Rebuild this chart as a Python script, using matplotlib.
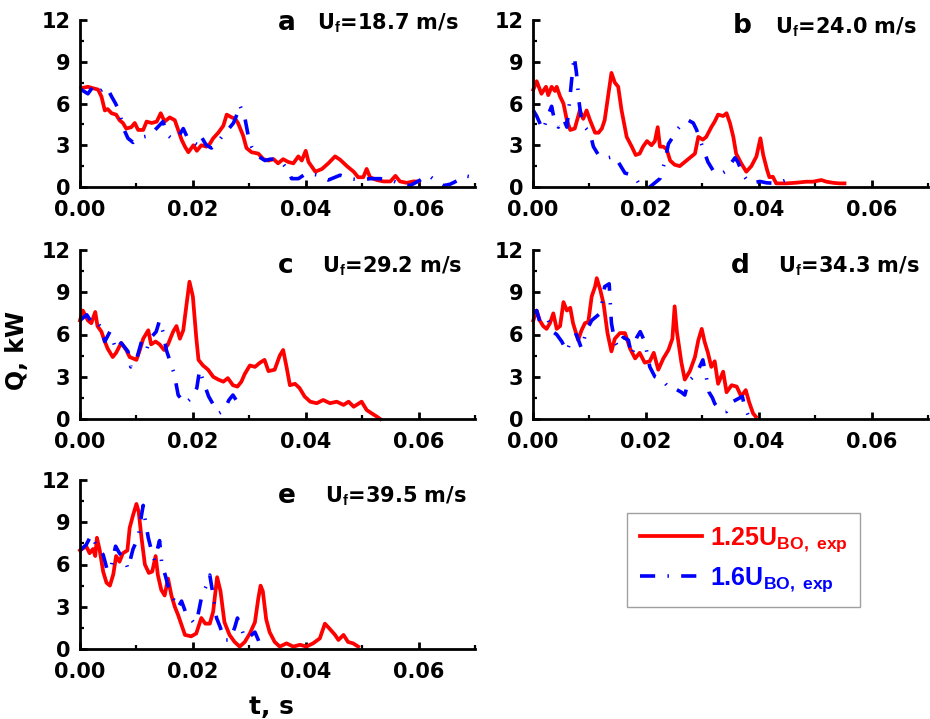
import matplotlib
matplotlib.use("Agg")
import matplotlib.pyplot as plt
from matplotlib.ticker import MultipleLocator

plt.rcParams['font.family'] = ['DejaVu Sans']
plt.rcParams['font.weight'] = 'bold'
plt.rcParams['mathtext.fontset'] = 'custom'
plt.rcParams['mathtext.rm'] = 'Liberation Sans:bold'
plt.rcParams['mathtext.bf'] = 'Liberation Sans:bold'
plt.rcParams['mathtext.it'] = 'Liberation Sans:bold'

# ---------------- data (time in ms, Q in kW) ----------------
a_red_t = [0.2, 1.4, 3.2, 3.8, 4.4, 4.9, 5.6, 6.4, 7.0, 7.6, 8.2, 9.1, 9.7, 10.3, 11.2, 11.8, 12.7, 13.6, 14.3, 15.0,
           15.9, 16.8, 17.4, 18.0, 18.6, 19.2, 20.1, 20.7, 21.5, 22.4, 23.0, 23.6, 24.5, 25.4, 26.0, 26.9, 27.5, 28.0,
           28.9, 29.5, 30.4, 31.6, 32.5, 33.4, 34.3, 35.1, 36.0, 36.9, 37.8, 38.7, 39.3, 40.0, 40.5, 41.7, 42.9, 44.0,
           45.2, 46.1, 47.3, 48.5, 49.3, 50.2, 50.8, 51.4, 52.6, 53.8, 55.0, 55.9, 56.7, 57.9, 59.1, 60.0]
a_red_q = [7.1, 7.2, 7.0, 6.5, 5.5, 5.6, 5.3, 5.2, 4.8, 4.6, 4.2, 4.3, 4.6, 4.1, 4.1, 4.7, 4.6, 4.7, 5.3, 4.7,
           5.0, 4.8, 4.1, 3.4, 2.9, 2.5, 3.0, 2.6, 3.0, 2.9, 3.1, 3.5, 3.9, 4.4, 5.2, 5.0, 4.9, 4.6,
           3.7, 2.8, 2.5, 2.4, 2.0, 1.9, 2.0, 1.7, 2.0, 1.8, 1.7, 2.2, 1.9, 2.6, 1.8, 1.1, 1.3, 1.7,
           2.2, 1.96, 1.5, 1.1, 0.7, 0.7, 1.3, 0.7, 0.5, 0.4, 0.4, 0.8, 0.4, 0.3, 0.4, 0.4]
a_blue_t = [0.2, 1.4, 2.3, 3.2, 4.7, 5.6, 6.3, 7.0, 7.6, 8.5, 9.4, 10.3, 11.2, 12.4, 13.3, 14.7, 15.6, 16.5, 17.4,
            18.3, 19.2, 20.1, 21.0, 21.5, 22.4, 23.3, 24.2, 25.1, 26.0, 27.2, 27.8, 28.3, 29.2, 29.8, 30.4, 31.6,
            32.8, 33.7, 34.6, 35.7, 36.9, 37.5, 38.7, 40.2, 42.2, 44.0, 46.1, 47.9, 49.6, 51.4, 53.2, 55.0, 56.7,
            58.5, 60.3, 61.7, 63.2, 64.4, 65.6, 67.1, 68.3, 69.1, 70.0]
a_blue_q = [7.0, 6.7, 7.2, 6.8, 7.2, 6.5, 6.0, 5.4, 4.3, 3.5, 3.2, 3.5, 3.6, 3.7, 4.1, 4.7, 3.7, 3.4, 3.6,
            4.2, 3.4, 3.2, 3.0, 3.6, 3.0, 2.8, 3.1, 3.6, 4.0, 4.6, 5.2, 5.9, 5.0, 3.7, 2.9, 2.2,
            1.9, 2.0, 2.0, 1.8, 1.2, 0.6, 0.6, 1.0, 0.85, 0.5, 0.85, 0.6, 0.5, 0.6, 0.6, 0.5, 0.25,
            0.1, 0.5, 0.85, 0.4, 0.1, 0.2, 0.5, 0.8, 0.74, 0.4]

b_red_t = [0.06, 0.65, 1.5, 2.3, 2.7, 3.3, 3.9, 4.2, 4.8, 5.4, 6.0, 6.6, 7.4, 8.3, 8.9, 9.5, 10.1, 11.0, 11.6, 12.2,
           12.7, 13.3, 13.9, 14.5, 15.1, 15.7, 16.6, 17.5, 18.2, 18.9, 19.5, 20.2, 21.0, 21.6, 22.1, 22.5, 23.1,
           23.7, 24.3, 25.1, 26.0, 26.9, 27.8, 28.7, 29.3, 30.1, 30.7, 31.6, 32.2, 32.8, 33.7, 34.3, 34.9, 35.5,
           36.0, 36.9, 37.8, 38.7, 39.6, 40.3, 40.8, 41.5, 41.9, 42.5, 43.1, 44.9, 46.7, 48.4, 49.6, 51.1, 52.0,
           53.2, 54.3, 55.2]
b_red_q = [7.0, 7.6, 6.7, 7.2, 6.6, 7.2, 6.9, 7.2, 6.5, 6.0, 4.8, 4.1, 4.2, 5.5, 4.9, 5.5, 4.8, 3.9, 3.9, 4.2,
           4.8, 6.5, 8.2, 7.5, 7.2, 5.5, 3.6, 2.9, 2.3, 2.4, 2.9, 3.3, 3.0, 3.3, 4.3, 2.9, 2.9,
           2.7, 1.9, 1.6, 1.5, 1.8, 2.1, 2.4, 3.6, 3.4, 3.6, 4.3, 4.7, 5.2, 5.1, 5.3, 4.6, 3.6,
           2.4, 1.7, 1.1, 1.5, 2.2, 3.5, 2.3, 1.2, 0.7, 0.74, 0.26, 0.26, 0.31, 0.38, 0.38, 0.5, 0.38,
           0.3, 0.26, 0.26]
b_blue_t = [0.06, 0.65, 1.2, 1.8, 2.7, 3.3, 3.9, 4.5, 5.4, 6.0, 6.4, 6.8, 7.3, 7.7, 8.2, 8.6, 9.2, 10.1, 10.7,
            11.6, 12.5, 13.3, 14.5, 15.4, 16.3, 17.2, 18.1, 19.0, 20.7, 21.6, 22.5, 23.4, 24.0, 24.8, 25.7, 26.6,
            27.5, 28.4, 29.0, 29.6, 30.2, 31.0, 31.9, 33.1, 34.0, 34.9, 35.8, 36.3, 37.2, 38.1, 39.0, 40.2, 41.4,
            43.1, 44.9, 46.5]
b_blue_q = [5.5, 5.1, 4.6, 4.1, 5.2, 5.8, 4.6, 4.3, 4.9, 4.3, 5.8, 7.5, 9.4, 8.2, 6.0, 4.8, 4.3, 3.9, 2.9,
            2.3, 2.1, 2.1, 2.2, 1.6, 1.0, 0.9, 0.7, 0.1, 0.0, 0.3, 0.6, 1.9, 3.1, 3.6, 4.2, 4.6,
            4.8, 4.6, 4.1, 3.4, 2.7, 1.8, 1.2, 0.9, 1.1, 1.6, 2.1, 1.8, 0.9, 0.4, 0.3, 0.4, 0.3,
            0.26, 0.5, 0.2]

c_red_t = [0.0, 0.5, 1.4, 2.0, 2.7, 3.1, 3.8, 4.3, 4.9, 5.8, 6.4, 7.3, 8.2, 8.8, 9.4, 10.0, 10.6, 11.2, 12.1, 12.6,
           13.4, 14.1, 14.9, 15.6, 16.5, 17.1, 17.7, 18.3, 18.9, 19.4, 20.0, 20.6, 21.0, 21.8, 22.7, 23.6, 24.5,
           25.4, 26.2, 27.1, 27.9, 28.6, 29.2, 30.1, 31.0, 31.9, 32.7, 33.4, 34.5, 35.4, 36.0, 36.6, 37.2, 38.1,
           38.9, 39.8, 40.8, 41.95, 43.1, 44.3, 45.5, 46.7, 47.6, 48.5, 49.9, 50.8, 51.7, 52.6, 53.2]
c_red_q = [7.0, 7.7, 7.0, 6.8, 7.6, 6.6, 6.2, 5.6, 5.0, 4.4, 4.7, 5.4, 4.9, 4.4, 4.3, 4.2, 4.9, 5.7, 6.3, 5.3,
           5.5, 5.3, 4.9, 5.3, 6.2, 6.6, 5.7, 6.3, 8.2, 9.75, 8.7, 5.8, 4.2, 3.8, 3.5, 3.0, 2.8,
           2.65, 2.9, 2.4, 2.3, 2.65, 3.2, 3.8, 3.7, 4.0, 4.2, 3.4, 3.5, 4.5, 4.9, 3.7, 2.4, 2.5,
           2.2, 1.6, 1.23, 1.12, 1.35, 1.12, 1.23, 1.0, 1.23, 0.87, 1.23, 0.64, 0.4, 0.17, 0.0]
c_blue_t = [0.0, 1.2, 2.0, 2.9, 3.8, 4.4, 5.3, 6.4, 7.3, 8.5, 9.0, 10.0, 10.9, 11.8, 12.4, 13.5, 14.1, 14.7, 15.3,
            16.2, 16.7, 17.4, 18.6, 19.8, 20.7, 21.2, 22.0, 22.8, 23.8, 24.6, 25.5, 26.4, 27.1, 27.9, 28.8]
c_blue_q = [7.0, 7.4, 6.9, 7.0, 6.4, 5.5, 6.2, 4.9, 5.4, 4.8, 3.7, 4.2, 5.5, 4.9, 5.7, 6.2, 7.0, 6.2, 4.9,
            3.8, 3.2, 1.7, 1.1, 1.5, 2.2, 3.5, 2.5, 1.6, 0.9, 0.4, 0.6, 1.35, 1.7, 1.2, 0.9]

d_red_t = [0.06, 0.65, 1.2, 1.8, 2.4, 3.0, 3.6, 4.2, 4.8, 5.4, 6.0, 6.6, 7.1, 8.0, 8.6, 9.2, 9.8, 10.4, 11.0, 11.3,
           11.9, 12.5, 13.2, 13.9, 14.5, 15.4, 16.3, 17.2, 18.1, 18.9, 19.8, 20.7, 21.4, 22.2, 23.1, 24.0, 24.7,
           25.1, 25.5, 26.3, 26.9, 27.8, 28.7, 29.3, 29.9, 30.4, 31.0, 31.6, 32.2, 32.8, 33.7, 34.3, 35.2, 36.1,
           36.9, 37.7, 38.3, 39.0, 39.5]
d_red_q = [7.0, 7.7, 7.0, 6.6, 6.4, 6.8, 7.5, 6.4, 6.6, 8.3, 7.7, 7.9, 6.8, 5.6, 6.3, 6.8, 6.9, 8.7, 9.4, 10.0,
           9.2, 8.2, 6.1, 4.8, 5.7, 6.1, 6.1, 5.0, 4.3, 4.7, 4.0, 4.1, 4.7, 3.5, 4.3, 4.9, 5.7,
           8.0, 6.2, 4.0, 2.8, 3.4, 4.4, 5.6, 6.4, 5.5, 4.7, 3.7, 4.1, 2.5, 3.36, 1.9, 2.4, 2.3,
           1.6, 2.05, 1.2, 0.4, 0.16]
d_blue_t = [0.06, 0.65, 1.2, 2.1, 2.7, 3.5, 4.2, 5.1, 6.0, 6.9, 7.7, 8.6, 9.5, 10.4, 11.3, 11.9, 12.7, 13.5, 13.9,
            14.5, 15.1, 16.0, 16.9, 17.5, 18.4, 19.0, 19.8, 20.7, 21.6, 22.8, 23.7, 24.6, 25.4, 26.3, 26.9, 27.5,
            28.4, 29.3, 30.1, 30.7, 31.2, 31.8, 32.2, 33.1, 33.9, 34.3, 35.4, 37.1, 37.5, 38.1]
d_blue_q = [7.5, 7.7, 6.9, 6.7, 7.0, 6.2, 6.0, 5.5, 4.8, 5.8, 6.0, 5.0, 6.3, 7.0, 7.3, 7.5, 9.4, 9.6, 6.8,
            5.5, 5.1, 5.8, 5.6, 4.5, 5.8, 6.2, 5.5, 3.7, 3.0, 2.8, 2.4, 2.4, 2.1, 1.9, 1.7, 2.65,
            3.0, 3.5, 4.2, 3.0, 1.9, 1.5, 1.1, 0.64, 0.53, 0.53, 1.23, 1.6, 0.9, 0.3]

e_red_t = [0.0, 1.1, 1.7, 2.3, 2.7, 3.0, 3.5, 4.1, 4.7, 5.3, 5.9, 6.4, 7.0, 7.6, 8.4, 8.8, 9.4, 10.0, 10.4, 10.9,
           11.5, 12.2, 12.8, 13.4, 13.8, 14.4, 15.0, 15.6, 16.2, 16.8, 17.4, 18.0, 18.6, 19.7, 20.6, 21.5, 22.2,
           23.0, 23.6, 24.3, 24.9, 25.6, 26.5, 27.4, 28.3, 29.2, 30.1, 31.0, 31.6, 32.0, 32.4, 33.0, 33.6, 34.5,
           35.4, 36.6, 37.8, 39.0, 40.1, 41.3, 42.5, 43.4, 44.1, 45.2, 45.8, 46.7, 47.5, 48.4, 49.3]
e_red_q = [7.0, 7.3, 6.8, 7.1, 6.6, 7.9, 7.0, 5.5, 4.7, 4.5, 5.3, 6.6, 6.2, 6.8, 7.0, 8.6, 9.5, 10.3, 9.75, 7.9,
           6.0, 5.4, 5.5, 6.6, 5.25, 4.2, 3.8, 5.0, 3.8, 3.0, 2.4, 1.7, 1.0, 0.9, 1.1, 2.2, 1.8,
           1.8, 2.65, 5.1, 4.1, 1.9, 1.0, 0.5, 0.17, 0.5, 1.1, 1.9, 3.6, 4.5, 4.1, 2.1, 1.2, 0.5,
           0.17, 0.4, 0.17, 0.3, 0.17, 0.4, 0.75, 1.8, 1.5, 1.0, 0.64, 1.0, 0.5, 0.4, 0.17]
e_blue_t = [0.0, 1.1, 2.0, 2.6, 3.2, 4.1, 4.9, 5.5, 6.3, 7.0, 7.9, 8.5, 9.4, 10.3, 10.9, 11.2, 11.5, 12.1, 12.6,
            13.2, 14.1, 14.5, 15.1, 15.6, 16.5, 17.3, 18.0, 18.9, 19.7, 20.3, 20.9, 21.6, 22.4, 23.0, 23.6, 24.2,
            24.8, 25.6, 26.5, 27.4, 27.9, 28.5, 29.2, 30.1, 31.0, 31.6, 31.9]
e_blue_q = [7.0, 7.4, 8.1, 7.6, 7.1, 6.7, 5.5, 5.8, 7.3, 6.8, 6.4, 5.7, 7.1, 7.9, 9.5, 10.2, 9.3, 7.9, 7.1,
            6.3, 7.7, 6.0, 5.25, 4.5, 3.6, 2.9, 3.4, 2.4, 2.1, 1.8, 2.4, 3.8, 4.5, 5.25, 3.8, 2.2,
            1.6, 0.64, 0.64, 1.5, 2.2, 1.6, 0.75, 0.9, 1.2, 0.64, 0.3]

panel_letters = ['a', 'b', 'c', 'd', 'e']
panel_speeds = ['18.7', '24.0', '29.2', '34.3', '39.5']
legend_labels = [r'$\mathbf{1.25U_{BO,\ exp}}$', r'$\mathbf{1.6U_{BO,\ exp}}$']

series = [
    (a_red_t, a_red_q, a_blue_t, a_blue_q),
    (b_red_t, b_red_q, b_blue_t, b_blue_q),
    (c_red_t, c_red_q, c_blue_t, c_blue_q),
    (d_red_t, d_red_q, d_blue_t, d_blue_q),
    (e_red_t, e_red_q, e_blue_t, e_blue_q),
]

# ---------------- layout ----------------
W, H = 930, 719
boxes = [  # left, top, right, bottom in pixels
    (80, 20, 475, 187),
    (533, 20, 928, 187),
    (80, 250, 475, 419),
    (533, 250, 928, 419),
    (80, 480, 475, 649),
]
text_y = [0.94, 0.92, 0.865, 0.865, 0.865]
letter_x = [0.50, 0.505, 0.50, 0.50, 0.50]
uf_x = [0.60, 0.613, 0.613, 0.62, 0.62]

RED = '#ff0000'
BLUE = '#0000ff'
blue_ls = (0, (4.2, 3.4, 0.4, 3.4))

fig = plt.figure(figsize=(W / 100, H / 100), dpi=100)
handles = None
for i, (rt, rq, bt, bq) in enumerate(series):
    l, t, r, b = boxes[i]
    ax = fig.add_axes([l / W, 1 - b / H, (r - l) / W, (b - t) / H])
    lr, = ax.plot([v * 1e-3 for v in rt], rq, color=RED, lw=2.7, solid_joinstyle='round', clip_on=False)
    lb, = ax.plot([v * 1e-3 for v in bt], bq, color=BLUE, lw=2.6, linestyle=blue_ls, dash_capstyle='butt',
                  clip_on=False)
    if handles is None:
        handles = [lr, lb]
    ax.set_xlim(0, 0.07)
    ax.set_ylim(0, 12)
    ax.xaxis.set_major_locator(MultipleLocator(0.02))
    ax.xaxis.set_minor_locator(MultipleLocator(0.01))
    ax.yaxis.set_major_locator(MultipleLocator(3))
    ax.yaxis.set_minor_locator(MultipleLocator(1.5))
    ax.xaxis.set_major_formatter(matplotlib.ticker.FormatStrFormatter('%.2f'))
    for s in ['top', 'right']:
        ax.spines[s].set_visible(False)
    for s in ['left', 'bottom']:
        ax.spines[s].set_linewidth(2.0)
    ax.tick_params(which='major', direction='in', length=5, width=2, labelsize=15, pad=7)
    ax.tick_params(which='minor', direction='in', length=3, width=1.6)
    ax.tick_params(axis='x', which='major', pad=9)
    for lab in ax.get_xticklabels() + ax.get_yticklabels():
        lab.set_fontweight('bold')
    ax.text(letter_x[i], text_y[i], panel_letters[i], transform=ax.transAxes, fontsize=19,
            fontweight='bold', ha='left', va='baseline')
    ax.text(uf_x[i], text_y[i], 'U$_\\mathbf{f}$=' + panel_speeds[i] + ' m/s', transform=ax.transAxes,
            fontsize=15, fontweight='bold', ha='left', va='baseline')

fig.text(17 / W, 1 - 351 / H, 'Q, kW', rotation=90, fontsize=17, fontweight='bold', ha='center', va='center')
fig.text(271 / W, 1 - 707 / H, 't, s', fontsize=18, fontweight='bold', ha='center', va='center')

leg = fig.legend(handles, legend_labels, loc='upper left', bbox_to_anchor=(627 / W, 1 - 513 / H),
                 fontsize=18, frameon=True, fancybox=False, edgecolor='#a0a0a0', framealpha=1,
                 handlelength=2.5, handletextpad=0.3, labelspacing=0.45, borderpad=0.5, borderaxespad=0)
leg.get_frame().set_linewidth(1.0)
for txt, c in zip(leg.get_texts(), [RED, BLUE]):
    txt.set_color(c)

fig.savefig('out.png', dpi=100)
